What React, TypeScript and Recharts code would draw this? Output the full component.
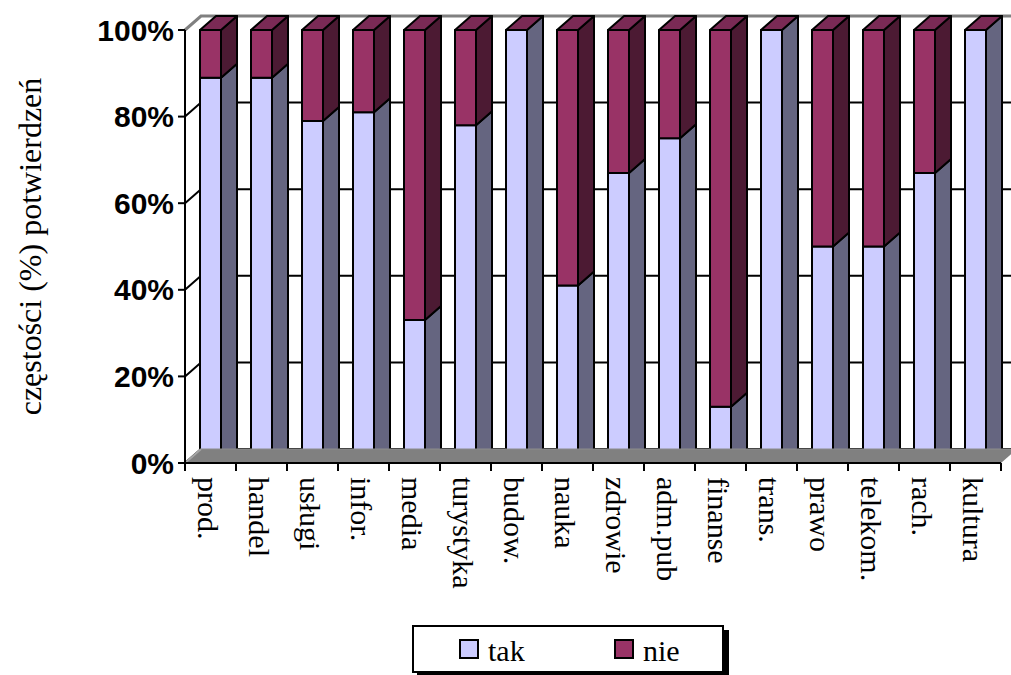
import { BarChart, Bar, XAxis, YAxis, CartesianGrid, Legend, ReferenceLine } from "recharts";

const categories = [
  "prod.", "handel", "usługi", "infor.", "media", "turystyka", "budow.", "nauka",
  "zdrowie", "adm.pub", "finanse", "trans.", "prawo", "telekom.", "rach.", "kultura",
];
const takValues = [89, 89, 79, 81, 33, 78, 100, 41, 67, 75, 13, 100, 50, 50, 67, 100];
const nieValues = [11, 11, 21, 19, 67, 22, 0, 59, 33, 25, 87, 0, 50, 50, 33, 0];
const percentTicks = [0, 20, 40, 60, 80, 100];
const seriesKeys = ["tak", "nie"];
const yTitle = "częstości (%) potwierdzeń";

const data = categories.map((name, i) => ({ name, tak: takValues[i], nie: nieValues[i] }));

// chart geometry
const W = 1011;
const H = 675;
const TOP = 30;
const RIGHT = 10;
const Y_AXIS_W = 185;
const X_AXIS_H = 212;
const HALF_BAND = (W - RIGHT - Y_AXIS_W) / categories.length / 2;
// depth offset of the pseudo-3d view
const DX = 16;
const DY = -14;

const SERIF = "Liberation Serif, Times New Roman, serif";
const SANS = "Liberation Sans, Arial, sans-serif";

const COLORS = {
  takFront: "#ccccff",
  takSide: "#656580",
  nieFront: "#993366",
  nieSide: "#4c1a33",
  nieTop: "#7a2a55",
};

function Block(props: any) {
  const { x, y, width, height, front, side, top } = props;
  const r = x + width;
  const b = y + height;
  return (
    <g stroke="#000" strokeWidth={2} strokeLinejoin="round">
      {height > 0 && <rect x={x} y={y} width={width} height={height} fill={front} />}
      {height > 0 && (
        <polygon points={`${r},${y} ${r + DX},${y + DY} ${r + DX},${b + DY} ${r},${b}`} fill={side} />
      )}
      {top && (
        <polygon points={`${x},${y} ${x + DX},${y + DY} ${r + DX},${y + DY} ${r},${y}`} fill={top} />
      )}
    </g>
  );
}

// gridlines live on the back wall, joined to the axis by the side wall
const wallLine = (p: any) => {
  const { x1, x2, y1, key } = p;
  const isTop = Math.abs(y1 - TOP) < 1;
  return (
    <polyline
      key={key}
      points={`${x1},${y1} ${x1 + DX},${y1 + DY} ${x2 + DX},${y1 + DY}`}
      fill="none"
      stroke={isTop ? "#808080" : "#000"}
      strokeWidth={isTop ? 3 : 2}
    />
  );
};

// grey floor under the columns
const floorShape = (p: any) => {
  const { x1, x2, y1 } = p;
  return (
    <g>
      <polygon
        points={`${x1},${y1} ${x1 + DX},${y1 + DY} ${x2 + DX},${y1 + DY} ${x2},${y1}`}
        fill="#808080"
      />
      <line x1={x1} y1={y1} x2={x1 + DX} y2={y1 + DY} stroke="#a6a6a6" strokeWidth={2} />
      <line x1={x1 + DX} y1={y1 + DY} x2={x2 + DX} y2={y1 + DY} stroke="#8c8c8c" strokeWidth={1} />
    </g>
  );
};

const CategoryTick = (props: any) => {
  const { x, y, payload, index } = props;
  const last = index === categories.length - 1;
  return (
    <g>
      <line x1={x - HALF_BAND} y1={y} x2={x - HALF_BAND} y2={y + 8} stroke="#000" strokeWidth={2} />
      {last && <line x1={x + HALF_BAND} y1={y} x2={x + HALF_BAND} y2={y + 8} stroke="#000" strokeWidth={2} />}
      <text
        x={x - 2}
        y={y + 14}
        transform={`rotate(90 ${x - 2} ${y + 14})`}
        textAnchor="start"
        dominantBaseline="central"
        fontFamily={SERIF}
        fontSize={30}
        fill="#000"
      >
        {payload.value}
      </text>
    </g>
  );
};

const YTitle = (props: any) => {
  const { viewBox } = props;
  const cx = 30;
  const cy = viewBox.y + viewBox.height / 2;
  return (
    <text
      x={cx}
      y={cy}
      transform={`rotate(-90 ${cx} ${cy})`}
      textAnchor="middle"
      dominantBaseline="central"
      fontFamily={SERIF}
      fontSize={32}
      fill="#000"
    >
      {yTitle}
    </text>
  );
};

const renderLegend = (props: any) => {
  const items = [...(props.payload || [])].sort(
    (a: any, b: any) => seriesKeys.indexOf(a.dataKey) - seriesKeys.indexOf(b.dataKey)
  );
  return (
    <div
      style={{
        boxSizing: "border-box",
        width: 312,
        height: 48,
        border: "2px solid #000",
        boxShadow: "5px 5px 0 #000",
        background: "#fff",
      }}
    >
      <svg width={308} height={44} style={{ display: "block" }}>
        {items.map((item: any, i: number) => {
          const left = 46 + i * 155;
          return (
            <g key={item.value}>
              <rect x={left} y={13} width={18} height={18} fill={item.color} stroke="#000" strokeWidth={2} />
              <text
                x={left + 28}
                y={23}
                dominantBaseline="central"
                fontFamily={SERIF}
                fontSize={30}
                fill="#000"
              >
                {item.value}
              </text>
            </g>
          );
        })}
      </svg>
    </div>
  );
};

export default function App() {
  return (
    <div style={{ position: "absolute", left: 0, top: 0 }}>
      <BarChart
        width={W}
        height={H}
        data={data}
        margin={{ top: TOP, right: RIGHT, left: 0, bottom: 0 }}
      >
        <CartesianGrid vertical={false} horizontal={wallLine} />
        <XAxis
          dataKey="name"
          height={X_AXIS_H}
          interval={0}
          tickSize={0}
          tickMargin={0}
          tickLine={false}
          axisLine={{ stroke: "#000", strokeWidth: 2 }}
          tick={<CategoryTick />}
        />
        <YAxis
          domain={[0, 100]}
          ticks={percentTicks}
          interval={0}
          width={Y_AXIS_W}
          tickFormatter={(v: number) => `${v}%`}
          tickSize={7}
          tickMargin={4}
          axisLine={{ stroke: "#000", strokeWidth: 2 }}
          tickLine={{ stroke: "#000", strokeWidth: 2 }}
          tick={{ fill: "#000", fontSize: 30, fontWeight: "bold", fontFamily: SANS }}
          label={<YTitle />}
        />
        <Legend
          layout="horizontal"
          verticalAlign="middle"
          align="center"
          wrapperStyle={{ left: 412, top: 625, width: 320, height: 55 }}
          content={renderLegend}
        />
        <ReferenceLine y={0} shape={floorShape} />
        <Bar
          dataKey="tak"
          name="tak"
          stackId="a"
          barSize={21}
          fill={COLORS.takFront}
          isAnimationActive={false}
          shape={(p: any) => <Block {...p} front={COLORS.takFront} side={COLORS.takSide} />}
        />
        <Bar
          dataKey="nie"
          name="nie"
          stackId="a"
          barSize={21}
          fill={COLORS.nieFront}
          isAnimationActive={false}
          shape={(p: any) => (
            <Block {...p} front={COLORS.nieFront} side={COLORS.nieSide} top={COLORS.nieTop} />
          )}
        />
      </BarChart>
    </div>
  );
}
